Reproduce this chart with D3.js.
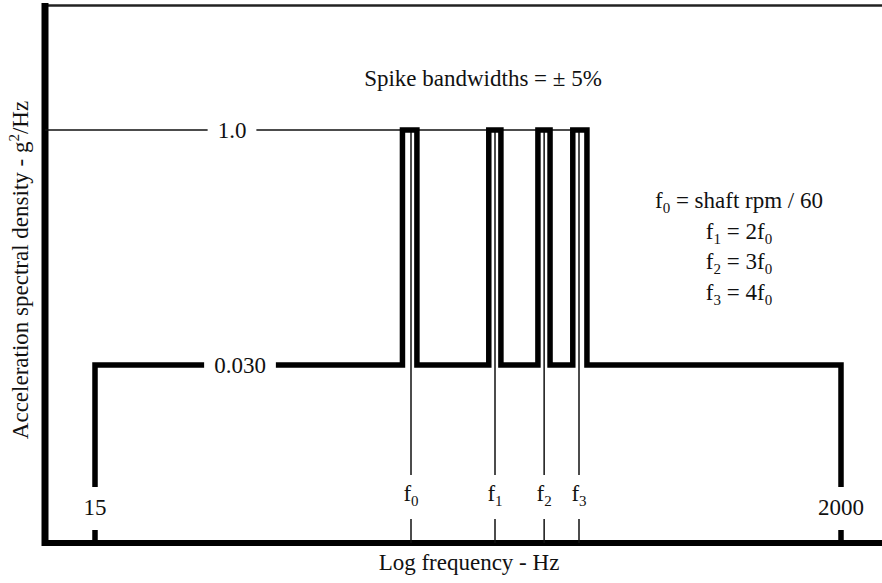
<!DOCTYPE html>
<html>
<head>
<meta charset="utf-8">
<script src="https://cdn.jsdelivr.net/npm/d3@7"></script>
<style>
  html, body { margin: 0; padding: 0; background: #fff; }
  svg { display: block; }
  text { font-family: "Liberation Serif", "Times New Roman", serif; fill: #111; }
</style>
</head>
<body>
<svg id="chart" width="882" height="583"></svg>
<script>
// Spectrum definition: broadband floor from 15 Hz to 2000 Hz with narrow spikes at shaft harmonics
const bandEdges = [15, 2000];            // Hz, ends of the broadband floor
const bandEdgeLabels = ["15", "2000"];
const baseLevel = 0.030;                 // g^2/Hz
const spikeLevel = 1.0;                  // g^2/Hz
const levelLabels = ["1.0", "0.030"];
const shaftFreq = 100;                   // f0 = shaft rpm / 60 (Hz)
const harmonics = [1, 2, 3, 4];          // f0..f3 multiples of f0
const harmonicNames = ["0", "1", "2", "3"];
const spikeHalfBand = 0.05;              // ± 5 %
const noteLines = [
  ["f", "0", " = shaft rpm / 60"],
  ["f", "1", " = 2f", "0"],
  ["f", "2", " = 3f", "0"],
  ["f", "3", " = 4f", "0"]
];

const W = 882, H = 583;
const svg = d3.select("#chart");

const spikeFreqs = harmonics.map(h => h * shaftFreq);

// Schematic log-frequency axis: piecewise log scale so the harmonic cluster is spread out
const x = d3.scaleLog()
  .domain([bandEdges[0], spikeFreqs[0], spikeFreqs[3], bandEdges[1]])
  .range([95, 411, 579, 841]);

const y = d3.scaleLog()
  .domain([baseLevel, spikeLevel])
  .range([365, 130]);

const axisX = 45, axisY = 543, topY = 5.5;
const edgeLabelY = 515, fLabelY = 501;

// Frame: heavy left and bottom axes, light top rule
svg.append("line").attr("x1", axisX).attr("x2", W).attr("y1", topY).attr("y2", topY)
  .attr("stroke", "#222").attr("stroke-width", 2.5);
svg.append("line").attr("x1", axisX).attr("x2", axisX).attr("y1", 3).attr("y2", axisY + 3)
  .attr("stroke", "#000").attr("stroke-width", 7);
svg.append("line").attr("x1", axisX - 3).attr("x2", W).attr("y1", axisY).attr("y2", axisY)
  .attr("stroke", "#000").attr("stroke-width", 6);

// Thin reference line at the spike level
svg.append("line")
  .attr("x1", axisX).attr("x2", x(spikeFreqs[3] * (1 + spikeHalfBand)))
  .attr("y1", y(spikeLevel)).attr("y2", y(spikeLevel))
  .attr("stroke", "#111").attr("stroke-width", 1.5);

// Harmonic marker lines (through the spikes) and their bottom ticks
const markers = svg.append("g");
spikeFreqs.forEach(f => {
  markers.append("line")
    .attr("x1", x(f)).attr("x2", x(f))
    .attr("y1", y(spikeLevel)).attr("y2", fLabelY - 26)
    .attr("stroke", "#111").attr("stroke-width", 1.5);
  markers.append("line")
    .attr("x1", x(f)).attr("x2", x(f))
    .attr("y1", fLabelY + 18).attr("y2", axisY)
    .attr("stroke", "#111").attr("stroke-width", 1.5);
});

// Spectrum outline: floor with rectangular spikes of ±5 % bandwidth
const dropY = edgeLabelY - 28;
const pts = [[bandEdges[0], null], [bandEdges[0], baseLevel]];
spikeFreqs.forEach(f => {
  const lo = f * (1 - spikeHalfBand), hi = f * (1 + spikeHalfBand);
  pts.push([lo, baseLevel], [lo, spikeLevel], [hi, spikeLevel], [hi, baseLevel]);
});
pts.push([bandEdges[1], baseLevel], [bandEdges[1], null]);
const line = d3.line()
  .x(d => x(d[0]))
  .y(d => d[1] === null ? dropY : y(d[1]));
svg.append("path")
  .attr("d", line(pts))
  .attr("fill", "none").attr("stroke", "#000").attr("stroke-width", 5.5)
  .attr("stroke-linejoin", "miter").attr("stroke-linecap", "butt");

// Short ticks at the band edges
bandEdges.forEach(f => {
  svg.append("line")
    .attr("x1", x(f)).attr("x2", x(f))
    .attr("y1", edgeLabelY + 15).attr("y2", axisY)
    .attr("stroke", "#000").attr("stroke-width", 5.5);
});

// Level labels sitting in gaps of the horizontal lines
const levelPos = [[232, spikeLevel], [240, baseLevel]];
levelLabels.forEach((lab, i) => {
  const g = svg.append("g");
  const t = g.append("text")
    .attr("x", levelPos[i][0]).attr("y", y(levelPos[i][1]))
    .attr("dy", "0.35em").attr("text-anchor", "middle")
    .attr("font-size", 23).text(lab);
  const b = t.node().getBBox();
  g.insert("rect", "text")
    .attr("x", b.x - 10).attr("y", b.y - 2)
    .attr("width", b.width + 20).attr("height", b.height + 4)
    .attr("fill", "#fff");
});

// Band edge labels
bandEdges.forEach((f, i) => {
  svg.append("text")
    .attr("x", x(f)).attr("y", edgeLabelY)
    .attr("text-anchor", "middle").attr("font-size", 23)
    .text(bandEdgeLabels[i]);
});

// Harmonic labels f0..f3
spikeFreqs.forEach((f, i) => {
  const t = svg.append("text")
    .attr("x", x(f)).attr("y", fLabelY)
    .attr("text-anchor", "middle").attr("font-size", 23);
  t.append("tspan").text("f");
  t.append("tspan").attr("font-size", 15).attr("dy", 5).text(harmonicNames[i]);
});

// Spike bandwidth note
svg.append("text")
  .attr("x", 483).attr("y", 86)
  .attr("text-anchor", "middle").attr("font-size", 23)
  .text("Spike bandwidths = \u00b1 5%");

// Harmonic definitions
noteLines.forEach((parts, i) => {
  const t = svg.append("text")
    .attr("x", 739).attr("y", 208 + i * 30.5)
    .attr("text-anchor", "middle").attr("font-size", 23);
  parts.forEach((p, j) => {
    const sub = j % 2 === 1;
    t.append("tspan")
      .attr("font-size", sub ? 15 : 23)
      .attr("dy", j === 0 ? 0 : (sub ? 5 : -5))
      .text(p);
  });
});

// Axis titles
svg.append("text")
  .attr("x", 469).attr("y", 570)
  .attr("text-anchor", "middle").attr("font-size", 23)
  .text("Log frequency - Hz");

const yt = svg.append("text")
  .attr("transform", "translate(28,270) rotate(-90)")
  .attr("text-anchor", "middle").attr("font-size", 23);
yt.append("tspan").text("Acceleration spectral density - g");
yt.append("tspan").attr("font-size", 15).attr("dy", -9).text("2");
yt.append("tspan").attr("dy", 9).text("/Hz");
</script>
</body>
</html>
